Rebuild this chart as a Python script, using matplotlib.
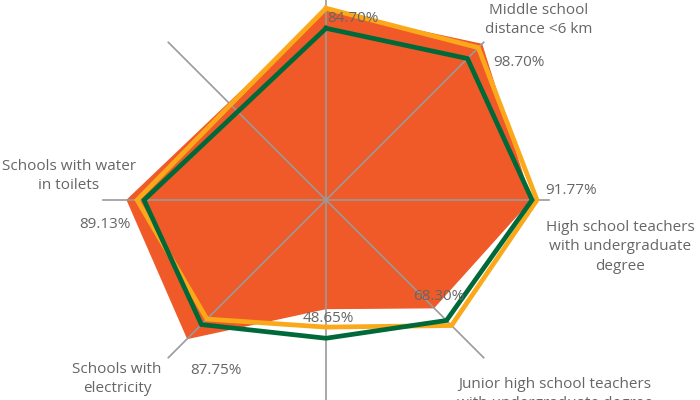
import matplotlib.pyplot as plt
import numpy as np

# axes clockwise from the top
categories = ['', 'Middle school\ndistance <6 km',
              'High school teachers\nwith undergraduate\ndegree',
              'Junior high school teachers\nwith undergraduate degree',
              '', 'Schools with\nelectricity',
              'Schools with water\nin toilets', '']
fill_vals = [84.70, 98.70, 91.77, 68.30, 48.65, 87.75, 89.13, 61.5]
orange_vals = [86.0, 96.6, 94.6, 79.6, 57.0, 75.5, 84.7, 60.5]
green_vals = [77.0, 89.7, 92.4, 76.4, 62.0, 79.0, 81.6, 56.0]
value_labels = ['84.70%', '98.70%', '91.77%', '68.30%', '48.65%', '87.75%', '89.13%', '']

RED = '#F05A28'
ORANGE = '#FBA91A'
GREEN = '#00693A'
TXT = '#666666'
FONT = 'Open Sans'

n = len(categories)
ang = np.arange(n) * 2 * np.pi / n

def closed(v):
    return list(v) + [v[0]]

angc = closed(ang)

fig = plt.figure(figsize=(7, 4), dpi=100)
# centre at (326, 200) px, radius 223 px
ax = fig.add_axes([103 / 700, (200 - 223) / 400, 446 / 700, 446 / 400], projection='polar')
ax.set_theta_zero_location('N')
ax.set_theta_direction(-1)
ax.set_ylim(0, 100)
ax.set_axis_off()

ax.fill(angc, closed(fill_vals), color=RED, lw=1, ec=RED, zorder=1)
for a in ang:
    ax.plot([a, a], [0, 100], color='#9a9a9a', lw=1.2, zorder=2, clip_on=False)
ax.plot(angc, closed(orange_vals), color=ORANGE, lw=3.4, zorder=3, solid_joinstyle='miter')
ax.plot(angc, closed(green_vals), color=GREEN, lw=3.4, zorder=4, solid_joinstyle='miter')

def px(x, y):
    return x / 700, 1 - y / 400

# value labels (pixel positions)
val_pos = [(327, 18, 'left'), (493, 62, 'left'), (545, 190, 'left'), (413, 297, 'left'),
           (303, 319, 'left'), (190, 370, 'left'), (131, 224, 'right')]
for (x, y, ha), t in zip(val_pos, value_labels):
    fig.text(*px(x, y), t, ha=ha, va='center', fontsize=11, color=TXT, family=FONT, zorder=10)

cat_pos = {1: (539, 3), 2: (620, 220), 3: (555, 377), 5: (117, 362), 6: (69, 159)}
for i, (x, y) in cat_pos.items():
    fig.text(*px(x, y), categories[i], ha='center', va='top', fontsize=11, color=TXT,
             family=FONT, linespacing=1.4)

fig.savefig('out.png', dpi=100)
